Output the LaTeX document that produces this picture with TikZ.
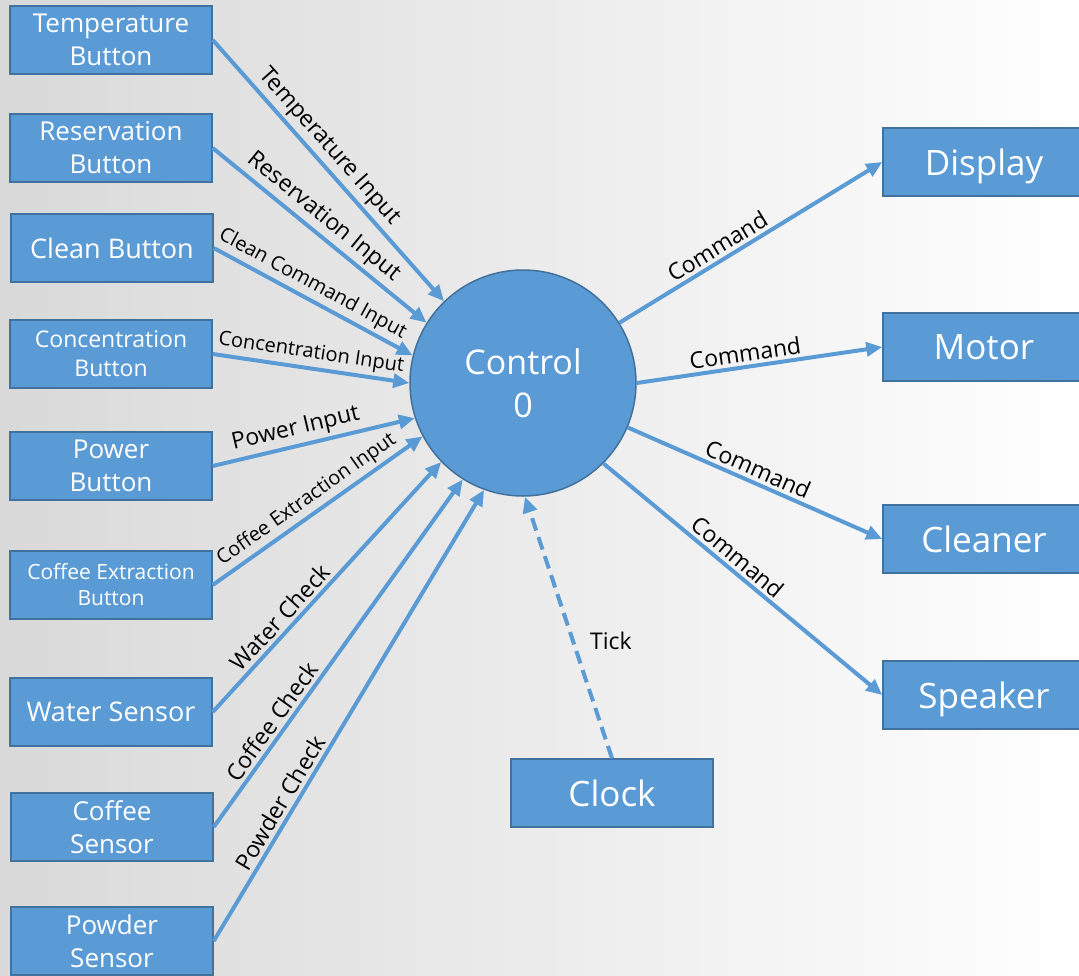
\documentclass[tikz,border=0pt]{standalone}
\usepackage{fontspec}
\setmainfont{Open Sans}
\usetikzlibrary{arrows.meta}
\definecolor{boxblue}{HTML}{5B9BD5}
\definecolor{boxedge}{HTML}{41719C}
\tikzset{
  unit/.style={draw=boxedge, line width=1.5pt, fill=boxblue, text=white, align=center,
    minimum width=202pt, minimum height=68pt, inner sep=0pt},
  oneline/.style={unit, text depth=0pt},
  flow/.style={draw=boxblue, line width=4pt, -{Triangle[length=16pt,width=14pt]}},
  lbl/.style={font=\fontsize{23}{28}\selectfont, sloped, above},
  smalllbl/.style={lbl, font=\fontsize{20}{24}\selectfont},
}

\begin{document}
\begin{tikzpicture}[x=1pt, y=-1pt]
        \clip (0,0) rectangle (1079,975);
        \shade[left color=black!15, right color=white] (0,0) rectangle (1079,975);

        % The inputs
        \node[unit, font=\fontsize{26}{33}\selectfont] (temp)   at (111,40)  {Temperature\\Button};
        \node[unit, font=\fontsize{26}{33}\selectfont] (resv)   at (111,148) {Reservation\\Button};
        \node[oneline, font=\fontsize{27}{35}\selectfont] (clean)  at (112,248) {Clean Button};
        \node[unit, font=\fontsize{23}{29}\selectfont] (conc)   at (111,354) {Concentration\\Button};
        \node[unit, font=\fontsize{26}{33}\selectfont] (power)  at (111,466) {Power\\Button};
        \node[unit, font=\fontsize{21}{26}\selectfont] (extr)   at (111,585) {Coffee Extraction\\Button};
        \node[oneline, font=\fontsize{27}{35}\selectfont] (water)  at (111,712) {Water Sensor};
        \node[unit, font=\fontsize{26}{33}\selectfont] (coffee) at (112,827) {Coffee\\Sensor};
        \node[unit, font=\fontsize{26}{33}\selectfont] (powder) at (112,941) {Powder\\Sensor};

        % The controller
        \node[circle, draw=boxedge, line width=1.5pt, fill=boxblue, text=white, align=center,
          minimum size=226pt, inner sep=0pt, font=\fontsize{34}{43}\selectfont] (ctrl) at (523,383) {Control\\0};

        % The outputs
        \node[oneline, font=\fontsize{35}{42}\selectfont] (disp)  at (984,162) {Display};
        \node[oneline, font=\fontsize{35}{42}\selectfont] (motor) at (984,347) {Motor};
        \node[oneline, font=\fontsize{35}{42}\selectfont] (clnr)  at (984,539) {Cleaner};
        \node[oneline, font=\fontsize{35}{42}\selectfont] (spk)   at (984,695) {Speaker};
        \node[oneline, font=\fontsize{35}{42}\selectfont] (clock) at (612,793) {Clock};

        % Input flows
        \draw[flow] (temp.east)   -- (ctrl.134) node[lbl, pos=.45] {Temperature Input};
        \draw[flow] (resv.east)   -- (ctrl.148) node[lbl, pos=.47] {Reservation Input};
        \draw[flow] (clean.east)  -- (ctrl.166) node[smalllbl, pos=.46] {Clean Command Input};
        \draw[flow] (conc.east)   -- (ctrl.180) node[smalllbl, pos=.49] {Concentration Input};
        \draw[flow] (power.east)  -- (ctrl.198) node[lbl, pos=.43] {Power Input};
        \draw[flow] (extr.east)   -- (ctrl.208) node[smalllbl, pos=.49] {Coffee Extraction Input};
        \draw[flow] (water.east)  -- (ctrl.224) node[lbl, pos=.34] {Water Check};
        \draw[flow] (coffee.east) -- (ctrl.238) node[lbl, pos=.28] {Coffee Check};
        \draw[flow] (powder.east) -- (ctrl.250) node[lbl, pos=.29] {Powder Check};

        % Output flows
        \draw[flow] (ctrl.32)  -- (disp.west)  node[lbl, pos=.40] {Command};
        \draw[flow] (ctrl.0)   -- (motor.west) node[lbl, pos=.45] {Command};
        \draw[flow] (ctrl.-23) -- (clnr.west)  node[lbl, pos=.49] {Command};
        \draw[flow] (ctrl.-45) -- (spk.west)   node[lbl, pos=.45] {Command};
        \draw[flow, dash pattern=on 13pt off 7pt] (clock.north) -- (ctrl.271)
          node[pos=.45, right, xshift=12pt, font=\fontsize{23}{28}\selectfont] {Tick};
\end{tikzpicture}
\end{document}
